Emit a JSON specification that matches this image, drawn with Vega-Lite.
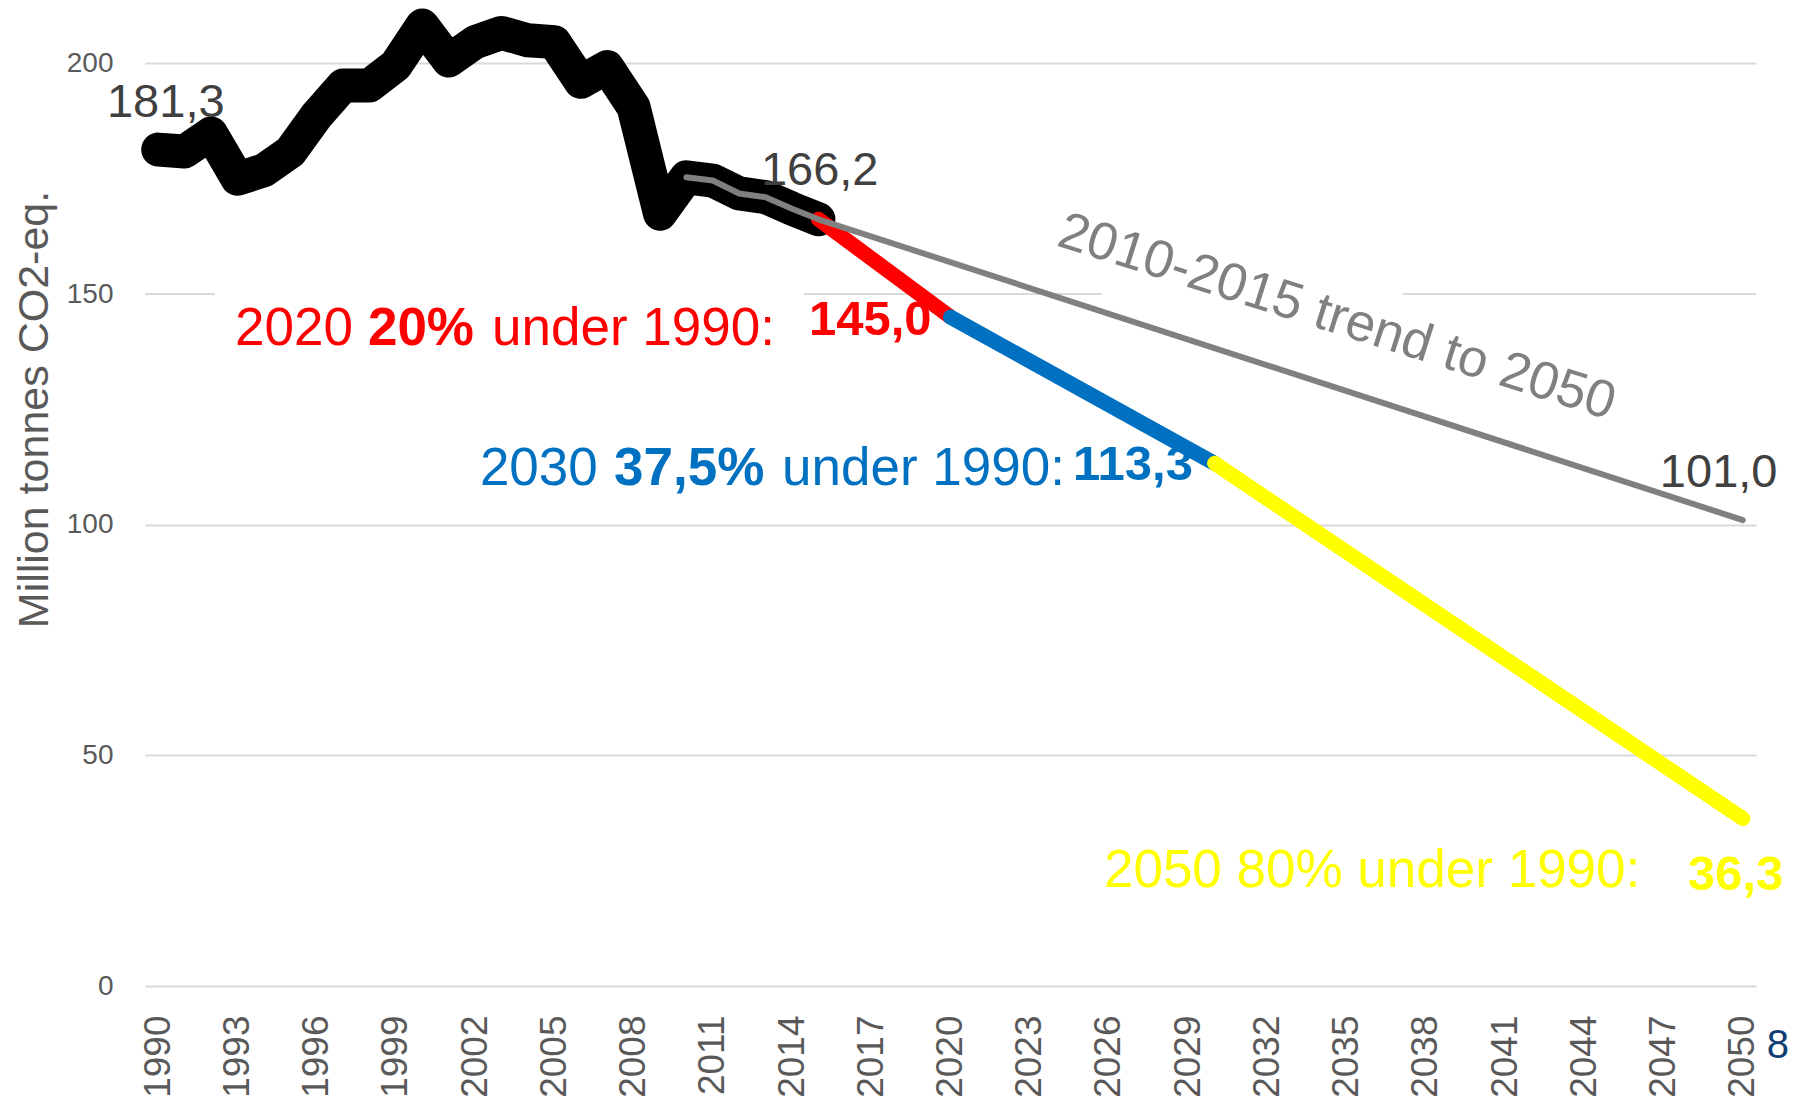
{
  "$schema": "https://vega.github.io/schema/vega-lite/v6.json",
  "width": 1611,
  "height": 978,
  "autosize": {"type": "none"},
  "padding": {"left": 145, "top": 8, "right": 38, "bottom": 115},
  "background": "white",
  "config": {"view": {"stroke": null}, "font": "Liberation Sans"},
  "datasets": {
    "emissions": [
      {"year": 1990, "value": 181.3}, {"year": 1991, "value": 180.9}, {"year": 1992, "value": 184.8},
      {"year": 1993, "value": 175.0}, {"year": 1994, "value": 176.8}, {"year": 1995, "value": 180.8},
      {"year": 1996, "value": 188.7}, {"year": 1997, "value": 195.2}, {"year": 1998, "value": 195.2},
      {"year": 1999, "value": 199.6}, {"year": 2000, "value": 208.2}, {"year": 2001, "value": 200.6},
      {"year": 2002, "value": 204.6}, {"year": 2003, "value": 206.6}, {"year": 2004, "value": 205.0},
      {"year": 2005, "value": 204.6}, {"year": 2006, "value": 196.0}, {"year": 2007, "value": 199.2},
      {"year": 2008, "value": 190.5}, {"year": 2009, "value": 167.4}, {"year": 2010, "value": 175.3},
      {"year": 2011, "value": 174.6}, {"year": 2012, "value": 171.8}, {"year": 2013, "value": 171.0},
      {"year": 2014, "value": 168.5}, {"year": 2015, "value": 166.2}
    ],
    "trend": [
      {"year": 2010, "value": 175.3}, {"year": 2011, "value": 174.6}, {"year": 2012, "value": 171.8},
      {"year": 2013, "value": 171.0}, {"year": 2014, "value": 168.5}, {"year": 2015, "value": 166.2},
      {"year": 2050, "value": 101.0}
    ],
    "targets": [
      {"target": "2020", "year": 2015, "value": 166.2}, {"target": "2020", "year": 2020, "value": 145.0},
      {"target": "2030", "year": 2020, "value": 145.0}, {"target": "2030", "year": 2030, "value": 113.3},
      {"target": "2050", "year": 2030, "value": 113.3}, {"target": "2050", "year": 2050, "value": 36.3}
    ],
    "grid150": [
      {"year": 1989.5, "year2": 1992.15, "value": 150},
      {"year": 2014.45, "year2": 2025.74, "value": 150},
      {"year": 2037.13, "year2": 2050.5, "value": 150}
    ],
    "valueLabels": [
      {"text": "181,3", "year": 1988.06, "value": 188.3},
      {"text": "166,2", "year": 2012.82, "value": 173.57},
      {"text": "101,0", "year": 2046.86, "value": 108.13}
    ],
    "targetText": [
      {"target": "2020", "text": "2020", "part": "plain", "year": 1992.91, "value": 138.9},
      {"target": "2020", "text": "20%", "part": "pct", "year": 1997.94, "value": 138.9},
      {"target": "2020", "text": "under 1990:", "part": "plain", "year": 2002.64, "value": 138.9},
      {"target": "2020", "text": "145,0", "part": "amount", "year": 2014.64, "value": 141.06},
      {"target": "2030", "text": "2030", "part": "plain", "year": 2002.18, "value": 108.56},
      {"target": "2030", "text": "37,5%", "part": "pct", "year": 2007.26, "value": 108.56},
      {"target": "2030", "text": "under 1990:", "part": "plain", "year": 2013.62, "value": 108.56},
      {"target": "2030", "text": "113,3", "part": "amount", "year": 2024.64, "value": 109.64},
      {"target": "2050", "text": "2050 80% under 1990:", "part": "plain", "year": 2025.81, "value": 21.45},
      {"target": "2050", "text": "36,3", "part": "amount", "year": 2047.92, "value": 20.8}
    ],
    "trendText": [
      {"text": "2010-2015 trend to 2050", "year": 2034.63, "value": 144.96}
    ],
    "pageNumber": [
      {"text": "8", "year": 2051.33, "value": -15.6}
    ]
  },
  "encoding": {
    "x": {
      "field": "year", "type": "quantitative",
      "scale": {"domain": [1989.5, 2050.5], "nice": false, "zero": false},
      "axis": {
        "values": [1990, 1993, 1996, 1999, 2002, 2005, 2008, 2011, 2014, 2017, 2020, 2023, 2026, 2029, 2032, 2035, 2038, 2041, 2044, 2047, 2050],
        "format": "d", "labelAngle": -90, "labelFontSize": 37, "labelColor": "#595959",
        "labelFont": "Liberation Sans", "labelPadding": 29, "ticks": false, "tickSize": 0,
        "domain": false, "grid": false, "title": null, "labelFlush": false,
        "labelOverlap": false, "labelBound": false
      }
    },
    "y": {
      "field": "value", "type": "quantitative",
      "scale": {"domain": [0, 212], "nice": false, "zero": true},
      "axis": {
        "values": [0, 50, 100, 150, 200],
        "grid": true, "gridColor": "#D9D9D9", "gridWidth": 2,
        "gridOpacity": {"condition": {"test": "datum.value === 150", "value": 0}, "value": 1},
        "domain": false, "ticks": false, "tickSize": 0, "labelPadding": 32,
        "labelFontSize": 28, "labelColor": "#595959", "labelFont": "Liberation Sans",
        "title": "Million tonnes CO2-eq.", "titleFontSize": 43, "titleColor": "#595959",
        "titleFontWeight": "normal", "titleFont": "Liberation Sans",
        "titleX": -98, "titleY": 401, "titleAngle": -90, "titleAlign": "center",
        "titleBaseline": "alphabetic"
      }
    }
  },
  "layer": [
    {
      "data": {"name": "grid150"},
      "mark": {"type": "rule", "color": "#D9D9D9", "strokeWidth": 2},
      "encoding": {"x2": {"field": "year2"}}
    },
    {
      "data": {"name": "emissions"},
      "mark": {"type": "line", "color": "#000000", "strokeWidth": 34, "strokeCap": "round", "strokeJoin": "round"}
    },
    {
      "data": {"name": "targets"},
      "mark": {"type": "line", "strokeWidth": 15, "strokeCap": "round", "strokeJoin": "round"},
      "encoding": {
        "color": {
          "field": "target", "type": "nominal",
          "scale": {"domain": ["2020", "2030", "2050"], "range": ["#FF0000", "#0070C0", "#FFFF00"]},
          "legend": null
        }
      }
    },
    {
      "data": {"name": "trend"},
      "mark": {"type": "line", "color": "#808080", "strokeWidth": 6, "strokeCap": "round", "strokeJoin": "round"}
    },
    {
      "data": {"name": "valueLabels"},
      "mark": {"type": "text", "align": "left", "baseline": "alphabetic", "fontSize": 47, "color": "#404040", "font": "Liberation Sans"},
      "encoding": {"text": {"field": "text"}}
    },
    {
      "data": {"name": "targetText"},
      "transform": [{"filter": "datum.part === 'plain'"}],
      "mark": {"type": "text", "align": "left", "baseline": "alphabetic", "fontSize": 53, "font": "Liberation Sans"},
      "encoding": {
        "text": {"field": "text"},
        "color": {"field": "target", "type": "nominal", "legend": null}
      }
    },
    {
      "data": {"name": "targetText"},
      "transform": [{"filter": "datum.part === 'pct'"}],
      "mark": {"type": "text", "align": "left", "baseline": "alphabetic", "fontSize": 53, "fontWeight": "bold", "font": "Liberation Sans"},
      "encoding": {
        "text": {"field": "text"},
        "color": {"field": "target", "type": "nominal", "legend": null}
      }
    },
    {
      "data": {"name": "targetText"},
      "transform": [{"filter": "datum.part === 'amount'"}],
      "mark": {"type": "text", "align": "left", "baseline": "alphabetic", "fontSize": 49, "fontWeight": "bold", "font": "Liberation Sans"},
      "encoding": {
        "text": {"field": "text"},
        "color": {"field": "target", "type": "nominal", "legend": null}
      }
    },
    {
      "data": {"name": "trendText"},
      "mark": {"type": "text", "align": "center", "baseline": "middle", "fontSize": 53, "angle": 17.5, "color": "#808080", "font": "Liberation Sans"},
      "encoding": {"text": {"field": "text"}}
    },
    {
      "data": {"name": "pageNumber"},
      "mark": {"type": "text", "align": "center", "baseline": "alphabetic", "fontSize": 40, "color": "#0E3D73", "font": "Liberation Sans"},
      "encoding": {"text": {"field": "text"}}
    }
  ]
}
